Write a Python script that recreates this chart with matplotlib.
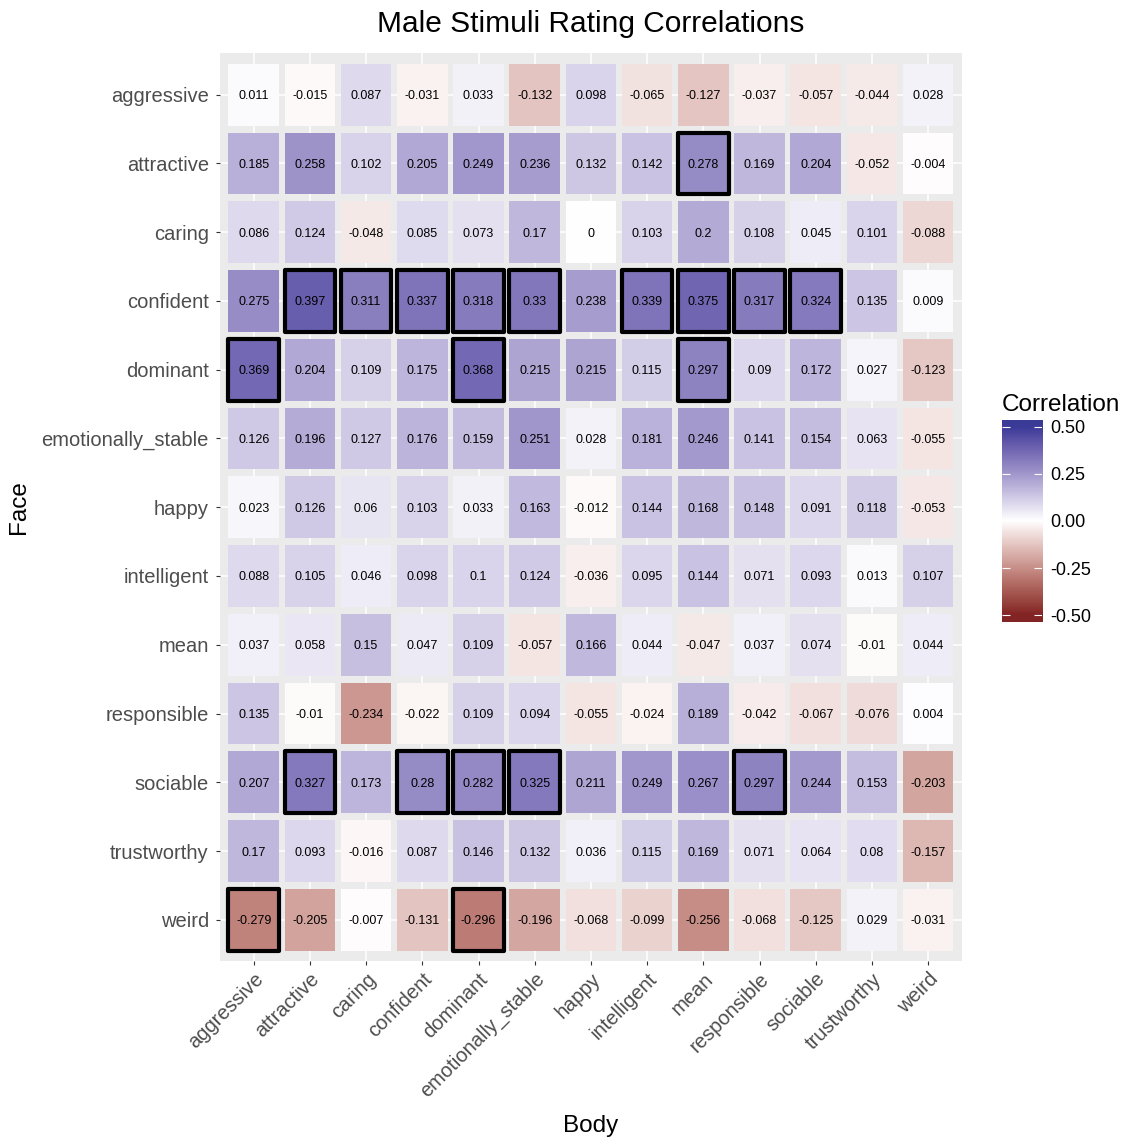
import numpy as np
import matplotlib
matplotlib.use("Agg")
import matplotlib.pyplot as plt
from matplotlib.colors import ListedColormap, Normalize

plt.rcParams['font.family'] = ['Liberation Sans', 'DejaVu Sans']

traits = ["aggressive", "attractive", "caring", "confident", "dominant",
          "emotionally_stable", "happy", "intelligent", "mean", "responsible",
          "sociable", "trustworthy", "weird"]

# rows = face ratings, columns = body ratings
r_aggressive = [0.011, -0.015, 0.087, -0.031, 0.033, -0.132, 0.098, -0.065, -0.127, -0.037, -0.057, -0.044, 0.028]
r_attractive = [0.185, 0.258, 0.102, 0.205, 0.249, 0.236, 0.132, 0.142, 0.278, 0.169, 0.204, -0.052, -0.004]
r_caring = [0.086, 0.124, -0.048, 0.085, 0.073, 0.17, 0, 0.103, 0.2, 0.108, 0.045, 0.101, -0.088]
r_confident = [0.275, 0.397, 0.311, 0.337, 0.318, 0.33, 0.238, 0.339, 0.375, 0.317, 0.324, 0.135, 0.009]
r_dominant = [0.369, 0.204, 0.109, 0.175, 0.368, 0.215, 0.215, 0.115, 0.297, 0.09, 0.172, 0.027, -0.123]
r_emotionally_stable = [0.126, 0.196, 0.127, 0.176, 0.159, 0.251, 0.028, 0.181, 0.246, 0.141, 0.154, 0.063, -0.055]
r_happy = [0.023, 0.126, 0.06, 0.103, 0.033, 0.163, -0.012, 0.144, 0.168, 0.148, 0.091, 0.118, -0.053]
r_intelligent = [0.088, 0.105, 0.046, 0.098, 0.1, 0.124, -0.036, 0.095, 0.144, 0.071, 0.093, 0.013, 0.107]
r_mean = [0.037, 0.058, 0.15, 0.047, 0.109, -0.057, 0.166, 0.044, -0.047, 0.037, 0.074, -0.01, 0.044]
r_responsible = [0.135, -0.01, -0.234, -0.022, 0.109, 0.094, -0.055, -0.024, 0.189, -0.042, -0.067, -0.076, 0.004]
r_sociable = [0.207, 0.327, 0.173, 0.28, 0.282, 0.325, 0.211, 0.249, 0.267, 0.297, 0.244, 0.153, -0.203]
r_trustworthy = [0.17, 0.093, -0.016, 0.087, 0.146, 0.132, 0.036, 0.115, 0.169, 0.071, 0.064, 0.08, -0.157]
r_weird = [-0.279, -0.205, -0.007, -0.131, -0.296, -0.196, -0.068, -0.099, -0.256, -0.068, -0.125, 0.029, -0.031]

corr = np.array([r_aggressive, r_attractive, r_caring, r_confident, r_dominant,
                 r_emotionally_stable, r_happy, r_intelligent, r_mean,
                 r_responsible, r_sociable, r_trustworthy, r_weird])

# significant cells: (face, body)
significant = [
    ("attractive", "mean"),
    ("confident", "attractive"), ("confident", "caring"), ("confident", "confident"),
    ("confident", "dominant"), ("confident", "emotionally_stable"),
    ("confident", "intelligent"), ("confident", "mean"),
    ("confident", "responsible"), ("confident", "sociable"),
    ("dominant", "aggressive"), ("dominant", "dominant"), ("dominant", "mean"),
    ("sociable", "attractive"), ("sociable", "confident"), ("sociable", "dominant"),
    ("sociable", "emotionally_stable"), ("sociable", "responsible"),
    ("weird", "aggressive"), ("weird", "dominant"),
]

legend_ticks = [-0.5, -0.25, 0, 0.25, 0.5]

M_RGB_XYZ = np.array([[0.4124, 0.3576, 0.1805],
                      [0.2126, 0.7152, 0.0722],
                      [0.0193, 0.1192, 0.9505]])
WHITE_D65 = np.array([0.95047, 1.0, 1.08883])


# diverging palette interpolated in CIELAB (muted red -> white -> muted blue)
def srgb_to_lab(rgb):
    c = np.asarray(rgb, dtype=float)
    lin = np.where(c <= 0.04045, c / 12.92, ((c + 0.055) / 1.055) ** 2.4)
    xyz = M_RGB_XYZ @ lin / WHITE_D65
    d = 6 / 29
    f = np.where(xyz > d ** 3, np.cbrt(xyz), xyz / (3 * d ** 2) + 4 / 29)
    return np.array([116 * f[1] - 16, 500 * (f[0] - f[1]), 200 * (f[1] - f[2])])


def lab_to_srgb(lab):
    L, a, b = lab
    fy = (L + 16) / 116
    f = np.array([fy + a / 500, fy, fy - b / 200])
    d = 6 / 29
    xyz = np.where(f > d, f ** 3, 3 * d ** 2 * (f - 4 / 29)) * WHITE_D65
    lin = np.clip(np.linalg.inv(M_RGB_XYZ) @ xyz, 0, 1)
    c = np.where(lin <= 0.0031308, 12.92 * lin, 1.055 * lin ** (1 / 2.4) - 0.055)
    return np.clip(c, 0, 1)


def hex_rgb(h):
    return np.array([int(h[i:i + 2], 16) / 255 for i in (1, 3, 5)])


low, mid, high = (srgb_to_lab(hex_rgb(h)) for h in ("#832424", "#FFFFFF", "#3A3A98"))
colors = []
for v in np.linspace(0, 1, 256):
    if v < 0.5:
        lab = low + (mid - low) * (v / 0.5)
    else:
        lab = mid + (high - mid) * ((v - 0.5) / 0.5)
    colors.append(lab_to_srgb(lab))
cmap = ListedColormap(colors)
norm = Normalize(-0.5, 0.5)


def fmt(v):
    if v == 0:
        return "0"
    return f"{v:.3f}".rstrip("0").rstrip(".")


fig = plt.figure(figsize=(11.31, 11.40), dpi=100)
ax = fig.add_axes([0.1945, 0.157, 0.656, 0.7961])
ax.set_facecolor("#EBEBEB")

n = len(traits)
xs = np.arange(n)
for i, face in enumerate(traits):
    ax.bar(xs, 0.9, bottom=i - 0.45, width=0.9, color=cmap(norm(corr[i])),
           linewidth=0, zorder=2)
    for j in range(n):
        ax.text(j, i, fmt(corr[i, j]), ha="center", va="center_baseline",
                fontsize=9, color="black", zorder=4)

for face, body in significant:
    i, j = traits.index(face), traits.index(body)
    ax.bar(j, 0.9, bottom=i - 0.45, width=0.9, color="none", edgecolor="black",
           linewidth=3, joinstyle="round", zorder=3)

ax.set_xlim(-0.6, n - 0.4)
ax.set_ylim(n - 0.4, -0.6)
ax.set_xticks(xs)
ax.set_yticks(xs)
ax.set_xticklabels(traits, rotation=45, ha="right", va="top", rotation_mode="anchor")
ax.set_yticklabels(traits)
ax.tick_params(axis="both", length=3, width=0.8, color="#333333",
               labelcolor="#4D4D4D", labelsize=14.5)
ax.tick_params(axis="y", pad=5)
ax.tick_params(axis="x", pad=3)
ax.grid(True, color="white", linewidth=1.1, zorder=1)
ax.set_axisbelow(True)
for s in ax.spines.values():
    s.set_visible(False)

ax.set_xlabel("Body", fontsize=17.5, labelpad=10)
ax.set_ylabel("Face", fontsize=17.5, labelpad=8)
fig.text(0.5225, 0.979, "Male Stimuli Rating Correlations", ha="center", va="center",
         fontsize=21.5)

# colour bar legend, the bar runs a little past the limits
cax = fig.add_axes([0.886, 0.4544, 0.0354, 0.1772])
ext = 0.537
grad = np.linspace(ext, -ext, 300).reshape(-1, 1)
cax.imshow(grad, cmap=cmap, norm=norm, aspect="auto", extent=[0, 1, -ext, ext])
cax.set_ylim(-ext, ext)
cax.set_xlim(0, 1)
cax.set_xticks([])
for s in cax.spines.values():
    s.set_visible(False)
cax.hlines(legend_ticks, 0, 0.2, color="white", linewidth=0.8)
cax.hlines(legend_ticks, 0.8, 1, color="white", linewidth=0.8)
cax.yaxis.tick_right()
cax.set_yticks(legend_ticks)
cax.set_yticklabels(["-0.50", "-0.25", "0.00", "0.25", "0.50"])
cax.tick_params(axis="y", length=0, labelcolor="black", labelsize=13, pad=6)
fig.text(0.886, 0.6447, "Correlation", ha="left", va="center", fontsize=17.5)

fig.savefig("out.png", dpi=100)
